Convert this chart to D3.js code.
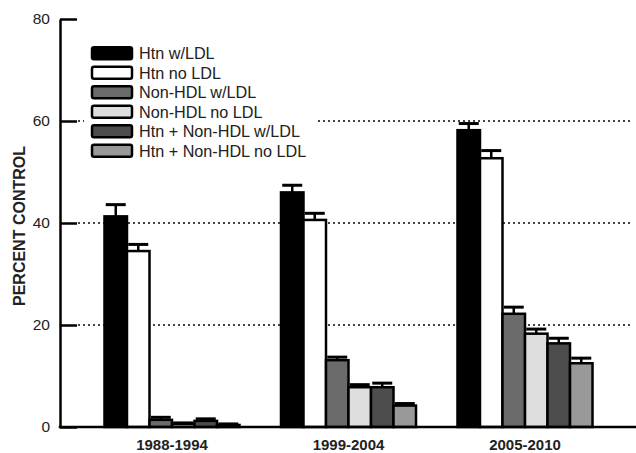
<!DOCTYPE html>
<html>
<head>
<meta charset="utf-8">
<script src="https://cdn.jsdelivr.net/npm/d3@7"></script>
<style>
  html, body { margin: 0; padding: 0; background: #fff; }
  svg { display: block; font-family: "Liberation Sans", Arial, sans-serif; }
</style>
</head>
<body>
<svg id="chart" width="636" height="453"></svg>
<script>
const groups = ["1988-1994", "1999-2004", "2005-2010"];
const seriesNames = ["Htn w/LDL", "Htn no LDL", "Non-HDL w/LDL", "Non-HDL no LDL", "Htn + Non-HDL w/LDL", "Htn + Non-HDL no LDL"];
const seriesColors = ["#000000", "#ffffff", "#6b6b6b", "#dedede", "#4d4d4d", "#999999"];
// values per series, across groups
const htnWithLDL      = [41.3, 46.0, 58.2];
const htnNoLDL        = [34.5, 40.6, 52.7];
const nonHdlWithLDL   = [1.4, 13.1, 22.2];
const nonHdlNoLDL     = [0.6, 7.8, 18.3];
const bothWithLDL     = [1.2, 7.8, 16.4];
const bothNoLDL       = [0.4, 4.2, 12.5];
// error (upper)
const htnWithLDLErr    = [2.3, 1.4, 1.3];
const htnNoLDLErr      = [1.3, 1.3, 1.5];
const nonHdlWithLDLErr = [0.5, 0.6, 1.3];
const nonHdlNoLDLErr   = [0.2, 0.5, 0.9];
const bothWithLDLErr   = [0.4, 0.8, 1.0];
const bothNoLDLErr     = [0.2, 0.4, 1.0];
const yTicks = [0, 20, 40, 60, 80];
const gridValues = [20, 40, 60];

const seriesValues = [htnWithLDL, htnNoLDL, nonHdlWithLDL, nonHdlNoLDL, bothWithLDL, bothNoLDL];
const seriesErrors = [htnWithLDLErr, htnNoLDLErr, nonHdlWithLDLErr, nonHdlNoLDLErr, bothWithLDLErr, bothNoLDLErr];

const svg = d3.select("#chart");
const axisX = 60, axisRight = 636, baseY = 427, topY = 19;

const y = d3.scaleLinear().domain([0, 80]).range([baseY, topY]);
const x0 = d3.scaleBand().domain(groups).range([83.75, 613.25]).paddingInner(0.235).paddingOuter(0.1175);
const x1 = d3.scaleBand().domain(seriesNames).range([0, x0.bandwidth()]).padding(0);

// gridlines
svg.append("g").selectAll("line").data(gridValues).join("line")
  .attr("x1", axisX + 18).attr("x2", 633)
  .attr("y1", d => y(d)).attr("y2", d => y(d))
  .attr("stroke", "#444").attr("stroke-width", 2)
  .attr("stroke-dasharray", "2,3");

// legend background
const legend = svg.append("g");
legend.append("rect").attr("x", 84).attr("y", 38).attr("width", 234).attr("height", 126).attr("fill", "#fff");

// bars
const data = [];
groups.forEach((g, gi) => {
  seriesNames.forEach((s, si) => {
    data.push({ g, s, si, v: seriesValues[si][gi], e: seriesErrors[si][gi] });
  });
});

const barG = svg.append("g");
// error bars
const errG = barG.append("g");
data.forEach(d => {
  const cx = x0(d.g) + x1(d.s) + x1.bandwidth() / 2;
  errG.append("line").attr("x1", cx).attr("x2", cx)
    .attr("y1", y(d.v)).attr("y2", y(d.v + d.e))
    .attr("stroke", "#000").attr("stroke-width", 2.5);
  errG.append("line").attr("x1", cx - 10).attr("x2", cx + 10)
    .attr("y1", y(d.v + d.e)).attr("y2", y(d.v + d.e))
    .attr("stroke", "#000").attr("stroke-width", 3);
});
barG.append("g").selectAll("rect").data(data).join("rect")
  .attr("x", d => x0(d.g) + x1(d.s))
  .attr("y", d => y(d.v))
  .attr("width", x1.bandwidth())
  .attr("height", d => baseY - y(d.v))
  .attr("fill", d => seriesColors[d.si])
  .attr("stroke", "#000").attr("stroke-width", 2.5);

// y axis
const yAxis = d3.axisLeft(y).tickValues(yTicks).tickSizeInner(-17).tickSizeOuter(0).tickPadding(10);
const yg = svg.append("g").attr("transform", `translate(${axisX},0)`).call(yAxis);
yg.select(".domain").attr("stroke", "#000").attr("stroke-width", 2.5);
yg.selectAll(".tick line").attr("stroke", "#000").attr("stroke-width", 2.5);
yg.selectAll(".tick text").attr("font-size", 15.5).attr("fill", "#222")
  .attr("font-family", "Liberation Sans, Arial, sans-serif");

// x axis
svg.append("line").attr("x1", axisX - 1.25).attr("x2", axisRight)
  .attr("y1", baseY).attr("y2", baseY).attr("stroke", "#000").attr("stroke-width", 2.5);
svg.append("g").selectAll("text").data(groups).join("text")
  .attr("x", d => x0(d) + x0.bandwidth() / 2)
  .attr("y", 450)
  .attr("text-anchor", "middle")
  .attr("font-size", 15).attr("font-weight", "bold").attr("fill", "#222")
  .text(d => d);

// y label
svg.append("text")
  .attr("transform", "translate(25,226) rotate(-90)")
  .attr("text-anchor", "middle")
  .attr("font-size", 16).attr("font-weight", "bold").attr("fill", "#222")
  .text("PERCENT CONTROL");

// legend items
const items = legend.selectAll("g.item").data(seriesNames).join("g").attr("class", "item")
  .attr("transform", (d, i) => `translate(0,${53.3 + i * 19.5})`);
items.append("rect").attr("x", 92).attr("y", -6).attr("width", 40).attr("height", 12)
  .attr("rx", 2)
  .attr("fill", (d, i) => seriesColors[i]).attr("stroke", "#000").attr("stroke-width", 2.5);
items.append("text").attr("x", 139).attr("y", 0).attr("dy", "0.36em")
  .attr("font-size", 16.2).attr("fill", "#222").text(d => d);
</script>
</body>
</html>
